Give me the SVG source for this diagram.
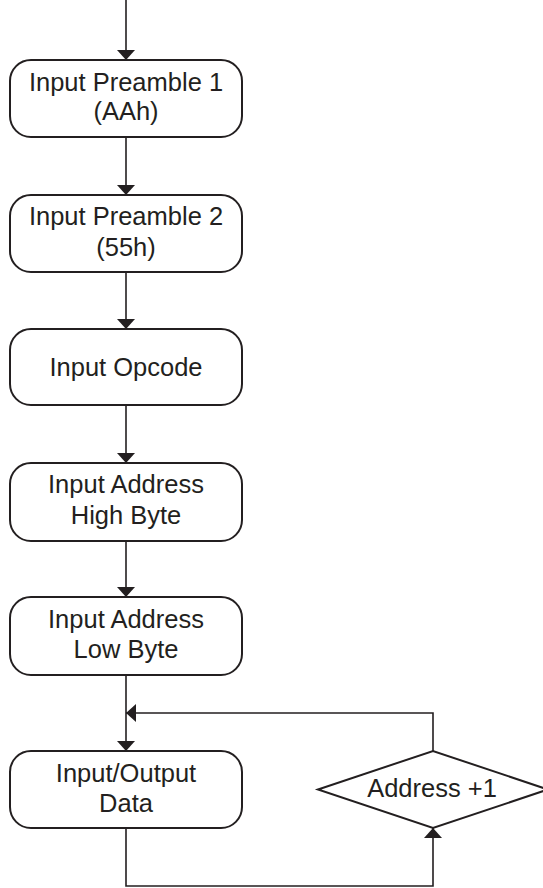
<svg xmlns="http://www.w3.org/2000/svg" width="543" height="888" viewBox="0 0 543 888">
<style>
.box{fill:#fff;stroke:#231f20;stroke-width:2}
.lbl{font-family:"Liberation Sans",Arial,sans-serif;font-size:25.5px;fill:#231f20;text-anchor:middle}
.ln{fill:none;stroke:#231f20;stroke-width:1.6}
</style>
<defs>
<marker id="ah" viewBox="0 0 10 10" refX="10" refY="5" markerWidth="10" markerHeight="18" markerUnits="userSpaceOnUse" orient="auto" preserveAspectRatio="none">
<path d="M0,0 L10,5 L0,10 Z" fill="#231f20"/>
</marker>
</defs>
<g id="connectors">
<line class="ln" x1="126" y1="0" x2="126" y2="60" marker-end="url(#ah)"/>
<line class="ln" x1="126" y1="137" x2="126" y2="195" marker-end="url(#ah)"/>
<line class="ln" x1="126" y1="272" x2="126" y2="329" marker-end="url(#ah)"/>
<line class="ln" x1="126" y1="405" x2="126" y2="463" marker-end="url(#ah)"/>
<line class="ln" x1="126" y1="541" x2="126" y2="597" marker-end="url(#ah)"/>
<line class="ln" x1="126" y1="675" x2="126" y2="751" marker-end="url(#ah)"/>
<polyline class="ln" points="433,751 433,713 126,713" marker-end="url(#ah)"/>
<polyline class="ln" points="126,828 126,886 433,886 433,828" marker-end="url(#ah)"/>
</g>
<g id="n1">
<rect class="box" x="10" y="60" width="232" height="77" rx="21"/>
<text class="lbl" x="126" y="91">Input Preamble 1</text>
<text class="lbl" x="126" y="120">(AAh)</text>
</g>
<g id="n2">
<rect class="box" x="10" y="195" width="232" height="77" rx="21"/>
<text class="lbl" x="126" y="225">Input Preamble 2</text>
<text class="lbl" x="126" y="256">(55h)</text>
</g>
<g id="n3">
<rect class="box" x="10" y="329" width="232" height="76" rx="21"/>
<text class="lbl" x="126" y="376">Input Opcode</text>
</g>
<g id="n4">
<rect class="box" x="10" y="463" width="232" height="78" rx="21"/>
<text class="lbl" x="126" y="493">Input Address</text>
<text class="lbl" x="126" y="524">High Byte</text>
</g>
<g id="n5">
<rect class="box" x="10" y="597" width="232" height="78" rx="21"/>
<text class="lbl" x="126" y="628">Input Address</text>
<text class="lbl" x="126" y="658">Low Byte</text>
</g>
<g id="n6">
<rect class="box" x="10" y="751" width="232" height="77" rx="21"/>
<text class="lbl" x="126" y="782">Input/Output</text>
<text class="lbl" x="126" y="812">Data</text>
</g>
<g id="n7">
<polygon class="box" points="318,789.5 433,751 548,789.5 433,828"/>
<text class="lbl" x="432" y="797">Address +1</text>
</g>
</svg>
